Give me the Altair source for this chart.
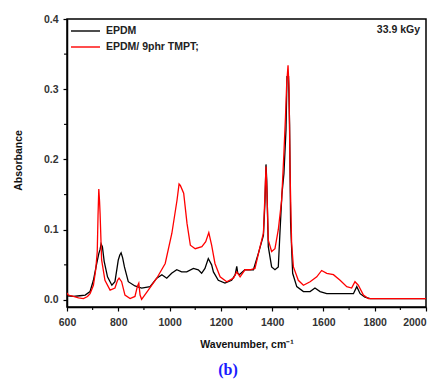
import altair as alt
import pandas as pd

# ---- data ----
wn_epdm = [600, 625, 650, 671, 690, 703, 716, 724, 729, 733, 738, 745, 758, 775, 787, 795, 800, 806, 811, 817,
           824, 839, 865, 891, 924, 950, 970, 989, 1008, 1028, 1047, 1067, 1093, 1112, 1125, 1138, 1151, 1164,
           1171, 1190, 1216, 1242, 1256, 1262, 1266, 1272, 1294, 1327, 1346, 1366, 1372, 1376, 1379, 1385,
           1398, 1411, 1424, 1431, 1438, 1446, 1454, 1458, 1464, 1468, 1472, 1480, 1496, 1522, 1548, 1567,
           1587, 1613, 1665, 1717, 1730, 1743, 1762, 1782, 2000]
abs_epdm = [0.006, 0.005, 0.006, 0.007, 0.012, 0.028, 0.052, 0.066, 0.072, 0.080, 0.076, 0.055, 0.033, 0.021,
            0.026, 0.045, 0.057, 0.064, 0.067, 0.060, 0.047, 0.026, 0.020, 0.017, 0.019, 0.031, 0.036, 0.031,
            0.038, 0.043, 0.040, 0.040, 0.045, 0.043, 0.038, 0.045, 0.059, 0.050, 0.040, 0.028, 0.024, 0.028,
            0.036, 0.048, 0.038, 0.036, 0.043, 0.043, 0.066, 0.092, 0.140, 0.193, 0.170, 0.076, 0.047, 0.043,
            0.047, 0.100, 0.150, 0.180, 0.242, 0.318, 0.318, 0.250, 0.110, 0.038, 0.019, 0.012, 0.012, 0.017,
            0.012, 0.009, 0.009, 0.009, 0.019, 0.009, 0.004, 0.002, 0.002]

wn_tmpt = [600, 605, 625, 645, 664, 680, 690, 703, 712, 718, 721, 724, 727, 729, 735, 748, 768, 787, 797, 803,
           813, 826, 846, 865, 875, 880, 885, 891, 917, 950, 983, 1009, 1029, 1037, 1042, 1055, 1068, 1081,
           1100, 1126, 1141, 1153, 1164, 1177, 1197, 1223, 1249, 1262, 1275, 1294, 1314, 1333, 1353, 1366,
           1372, 1376, 1380, 1385, 1398, 1411, 1424, 1437, 1446, 1452, 1457, 1462, 1466, 1470, 1476, 1483,
           1502, 1522, 1548, 1574, 1593, 1613, 1639, 1665, 1691, 1710, 1723, 1736, 1756, 1775, 2000]
abs_tmpt = [0.010, 0.007, 0.005, 0.003, 0.002, 0.005, 0.009, 0.021, 0.043, 0.069, 0.120, 0.158, 0.140, 0.123,
            0.057, 0.028, 0.014, 0.017, 0.028, 0.031, 0.026, 0.007, 0.002, 0.005, 0.020, 0.024, 0.007, 0.001,
            0.014, 0.031, 0.052, 0.095, 0.142, 0.165, 0.163, 0.152, 0.109, 0.078, 0.073, 0.076, 0.083, 0.096,
            0.078, 0.052, 0.033, 0.026, 0.031, 0.040, 0.033, 0.043, 0.043, 0.045, 0.076, 0.095, 0.150, 0.190,
            0.150, 0.085, 0.069, 0.073, 0.100, 0.142, 0.210, 0.260, 0.310, 0.334, 0.300, 0.180, 0.080, 0.047,
            0.028, 0.021, 0.026, 0.033, 0.042, 0.038, 0.036, 0.028, 0.019, 0.017, 0.026, 0.021, 0.007, 0.002,
            0.002]

series_names = ["EPDM", "EPDM/ 9phr TMPT;"]
series_colors = ["#000000", "#ff0000"]
x_ticks = [600, 800, 1000, 1200, 1400, 1600, 1800, 2000]
x_minor = [700, 900, 1100, 1300, 1500, 1700, 1900]
y_ticks = [0.0, 0.1, 0.2, 0.3, 0.4]
y_minor = [0.05, 0.15, 0.25, 0.35]

df = pd.concat([
    pd.DataFrame({"wn": wn_epdm, "a": abs_epdm, "s": series_names[0], "k": 0}),
    pd.DataFrame({"wn": wn_tmpt, "a": abs_tmpt, "s": series_names[1], "k": 1}),
])

FONT = "Liberation Sans"
W, H = 359, 288
xs = alt.Scale(domain=[600, 2000], nice=False, zero=False)
ys = alt.Scale(domain=[-0.01, 0.4], nice=False, zero=False)

lines = alt.Chart(df).mark_line(strokeWidth=1.3, clip=True).encode(
    x=alt.X("wn:Q", scale=xs, axis=alt.Axis(
        values=x_ticks, format="d", title="Wavenumber, cm\u207b\u00b9", labelPadding=6, labelFlush=False,
        labelAlign={"condition": {"test": "datum.value >= 2000", "value": "right"}, "value": "center"},
        titleFont=FONT, titleFontWeight="bold", titleFontSize=10.5, titleColor="#111",
        titlePadding=12)),
    y=alt.Y("a:Q", scale=ys, axis=alt.Axis(
        values=y_ticks, format=".1f", title="Absorbance", labelPadding=5, labelFlush=False,
        titleFont=FONT, titleFontWeight="bold", titleFontSize=10.5, titleColor="#111",
        titleX=-49, titleY=141, titleAngle=-90, titleBaseline="middle", titleAlign="center")),
    color=alt.Color("s:N", scale=alt.Scale(domain=series_names, range=series_colors), legend=None),
    detail="s:N",
    order="wn:Q",
)

xminor = alt.Chart(pd.DataFrame({"v": x_minor})).mark_rule(color="black", strokeWidth=1.1).encode(
    x=alt.X("v:Q", scale=xs, axis=None), y=alt.value(H), y2=alt.value(H + 3))
yminor = alt.Chart(pd.DataFrame({"v": y_minor})).mark_rule(color="black", strokeWidth=1.1).encode(
    y=alt.Y("v:Q", scale=ys, axis=None), x=alt.value(-3), x2=alt.value(0))

leg = pd.DataFrame({"s": series_names, "row": [0, 1]})
leg_y = alt.Scale(domain=[0, 1], range=[12, 28])
leg_lines = alt.Chart(leg).mark_rule(strokeWidth=1.4).encode(
    x=alt.value(4), x2=alt.value(33),
    y=alt.Y("row:Q", scale=leg_y, axis=None),
    color=alt.Color("s:N", scale=alt.Scale(domain=series_names, range=series_colors), legend=None))
leg_text = alt.Chart(leg).mark_text(align="left", baseline="middle", font=FONT, fontWeight="bold",
                                    fontSize=10.5, color="#222").encode(
    x=alt.value(39), y=alt.Y("row:Q", scale=leg_y, axis=None), text="s:N")

dose = alt.Chart(pd.DataFrame({"t": ["33.9 kGy"]})).mark_text(
    align="right", baseline="middle", font=FONT, fontWeight="bold", fontSize=10.5, color="#222").encode(
    x=alt.value(W - 6), y=alt.value(11), text="t:N")

label_b = alt.Chart(pd.DataFrame({"t": ["(b)"]})).mark_text(
    align="center", baseline="middle", font="Liberation Serif", fontWeight="bold", fontSize=16,
    color="#1a1aff").encode(x=alt.value(161), y=alt.value(351), text="t:N")

chart = alt.layer(lines, xminor, yminor, leg_lines, leg_text, dose, label_b).resolve_scale(
    x="independent", y="independent", color="independent"
).properties(
    width=W, height=H,
    autosize=alt.AutoSizeParams(type="none"),
    padding={"left": 59, "top": 11, "right": 4, "bottom": 72},
).configure_view(stroke="black", strokeWidth=1.5).configure_axis(
    grid=False, domainColor="black", domainWidth=1.5, tickColor="black", tickWidth=1.2, tickSize=4,
    labelFont=FONT, labelFontWeight="bold", labelFontSize=10.5, labelColor="#333",
)

chart.save("out.html", embed_options={"renderer": "svg", "actions": False})
